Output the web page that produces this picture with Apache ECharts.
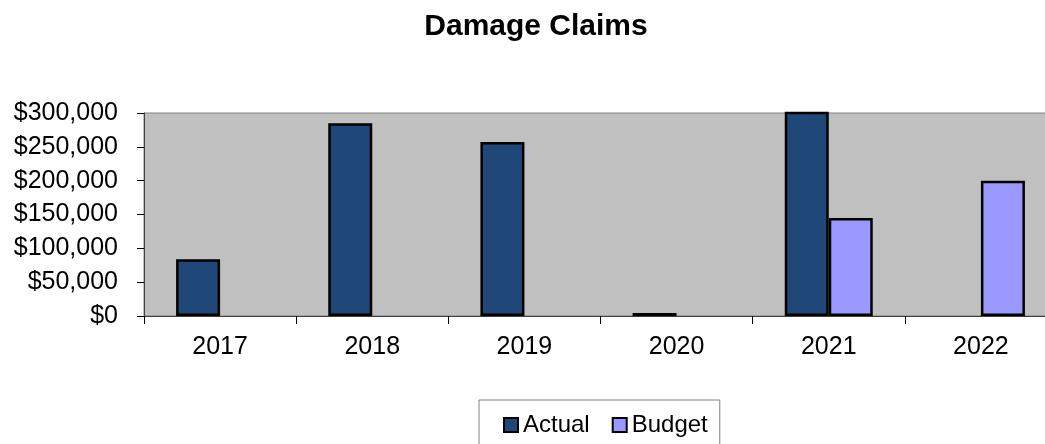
<!DOCTYPE html>
<html>
<head>
<meta charset="utf-8">
<title>Damage Claims</title>
<script src="https://cdn.jsdelivr.net/npm/echarts@6/dist/echarts.min.js"></script>
<style>
  html, body { margin: 0; padding: 0; background: #fff; }
  #chart { width: 1045px; height: 444px; }
</style>
</head>
<body>
<div id="chart"></div>
<script>
// Yearly damage claims: actual spend vs. budget
const years = ['2017', '2018', '2019', '2020', '2021', '2022'];
const actual = [84000, 285000, 257000, 4500, 320000, null];
const budget = [null, null, null, null, 145000, 200000];
const yTicks = [0, 50000, 100000, 150000, 200000, 250000, 300000];

const FONT = '"Liberation Sans", Arial, sans-serif';
const money = v => '$' + v.toLocaleString('en-US');

const chart = echarts.init(document.getElementById('chart'), null, { renderer: 'canvas' });

chart.setOption({
  animation: false,
  backgroundColor: '#ffffff',
  textStyle: { fontFamily: FONT },
  title: {
    text: 'Damage Claims',
    left: 531,
    top: 7,
    textAlign: 'center',
    textStyle: { fontFamily: FONT, fontSize: 30, fontWeight: 'bold', color: '#000' }
  },
  legend: {
    left: 479,
    top: 400,
    padding: [13, 12, 13, 24],
    itemGap: 22,
    itemWidth: 14,
    itemHeight: 14,
    icon: 'rect',
    borderColor: '#808080',
    borderWidth: 1,
    backgroundColor: '#ffffff',
    textStyle: { fontFamily: FONT, fontSize: 24, color: '#000' },
    data: ['Actual', 'Budget']
  },
  // the plot area runs a little past the right edge of the page
  grid: {
    left: 144,
    top: 113,
    right: -12,
    height: 203,
    outerBoundsMode: 'none',
    show: true,
    backgroundColor: '#C0C0C0',
    borderColor: '#808080',
    borderWidth: 1,
    containLabel: false
  },
  xAxis: {
    type: 'category',
    data: years,
    boundaryGap: true,
    axisLine: { lineStyle: { color: '#404040', width: 1 } },
    axisTick: { show: true, inside: false, length: 8, lineStyle: { color: '#000' } },
    axisLabel: { fontFamily: FONT, fontSize: 25, color: '#000', margin: 19 },
    splitLine: { show: false }
  },
  yAxis: {
    type: 'value',
    min: yTicks[0],
    max: yTicks[yTicks.length - 1],
    interval: yTicks[1] - yTicks[0],
    axisLine: { show: true, lineStyle: { color: '#404040', width: 1 } },
    axisTick: { show: true, inside: false, length: 7, lineStyle: { color: '#000' } },
    axisLabel: { fontFamily: FONT, fontSize: 25, color: '#000', margin: 26, formatter: money },
    splitLine: { show: false }
  },
  series: [
    {
      name: 'Actual',
      type: 'bar',
      data: actual,
      barWidth: 44,
      barGap: '0%',
      clip: true,
      itemStyle: { color: '#1F4778', borderColor: '#000', borderWidth: 2.5 }
    },
    {
      name: 'Budget',
      type: 'bar',
      data: budget,
      barWidth: 44,
      barGap: '0%',
      clip: true,
      itemStyle: { color: '#9999FF', borderColor: '#000', borderWidth: 2.5 }
    }
  ]
});
</script>
</body>
</html>
